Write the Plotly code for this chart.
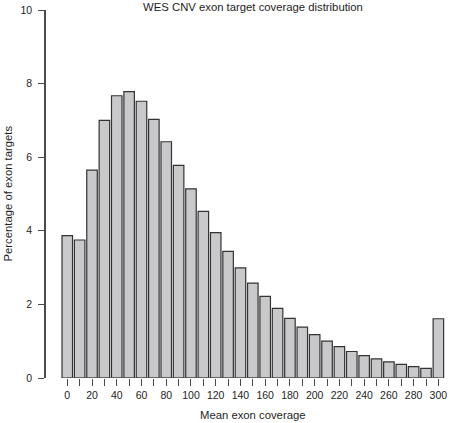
import plotly.graph_objects as go

coverage_bins = list(range(0, 301, 10))
pct_targets = [3.87, 3.75, 5.65, 7.00, 7.67, 7.78, 7.52, 7.03, 6.42, 5.78,
               5.14, 4.53, 3.95, 3.44, 2.99, 2.58, 2.22, 1.89, 1.62, 1.38,
               1.18, 1.00, 0.85, 0.72, 0.61, 0.52, 0.44, 0.37, 0.31, 0.26, 1.61]
y_ticks = [0, 2, 4, 6, 8, 10]
x_tick_labels = [str(v) if v % 20 == 0 else "" for v in coverage_bins]

FONT = "Liberation Sans, Arial, Helvetica, sans-serif"
AX = "#4a4a4a"
TXT = "#1e1e1e"

fig = go.Figure()
fig.add_trace(go.Bar(
    x=coverage_bins, y=pct_targets, width=8.5,
    marker=dict(color="#c9c9cb", line=dict(color="#333333", width=1.2)),
    hoverinfo="x+y",
))

# x axis baseline spanning first to last tick (R-style)
fig.add_shape(type="line", xref="x", yref="y",
              x0=min(coverage_bins), x1=max(coverage_bins), y0=0, y1=0,
              line=dict(color=AX, width=1.2))

# axis titles (positioned like the R plot)
fig.add_annotation(text="Mean exon coverage", xref="paper", yref="paper",
                   x=(252.5 - 46) / 404, y=-(416 - 378.5) / 368.5,
                   xanchor="center", yanchor="middle", showarrow=False,
                   font=dict(size=11.3, family=FONT, color=TXT))
fig.add_annotation(text="Percentage of exon targets", xref="paper", yref="paper",
                   x=-(46 - 7.5) / 404, y=0.5, textangle=-90,
                   xanchor="center", yanchor="middle", showarrow=False,
                   font=dict(size=11.3, family=FONT, color=TXT))

fig.update_layout(
    width=450, height=423,
    margin=dict(l=46, r=0, t=10, b=44.5, autoexpand=False),
    plot_bgcolor="white", paper_bgcolor="white",
    showlegend=False,
    font=dict(family=FONT, size=10, color=TXT),
    title=dict(text="WES CNV exon target coverage distribution",
               x=253 / 450, xanchor="center", xref="container",
               y=1 - 7 / 423, yanchor="middle", yref="container",
               automargin=False,
               font=dict(size=11.3, family=FONT, color=TXT)),
    xaxis=dict(range=[-17.2, 309.4], tickmode="array", automargin=False,
               tickvals=coverage_bins, ticktext=x_tick_labels,
               ticks="outside", ticklen=7, tickwidth=1.2, tickcolor=AX,
               showline=False, showgrid=False, zeroline=False,
               tickfont=dict(size=10.5)),
    yaxis=dict(range=[0, 10], tickmode="array", tickvals=y_ticks,
               automargin=False,
               ticks="outside", ticklen=6, tickwidth=1.2, tickcolor=AX,
               showline=True, linecolor=AX, linewidth=1.5,
               showgrid=False, zeroline=False,
               tickfont=dict(size=10.5), ticklabelstandoff=4),
)

fig.write_html("out.html",
               config={"displayModeBar": False},
               post_script="document.body.style.margin='0';"
                           "document.body.style.overflow='hidden';")
